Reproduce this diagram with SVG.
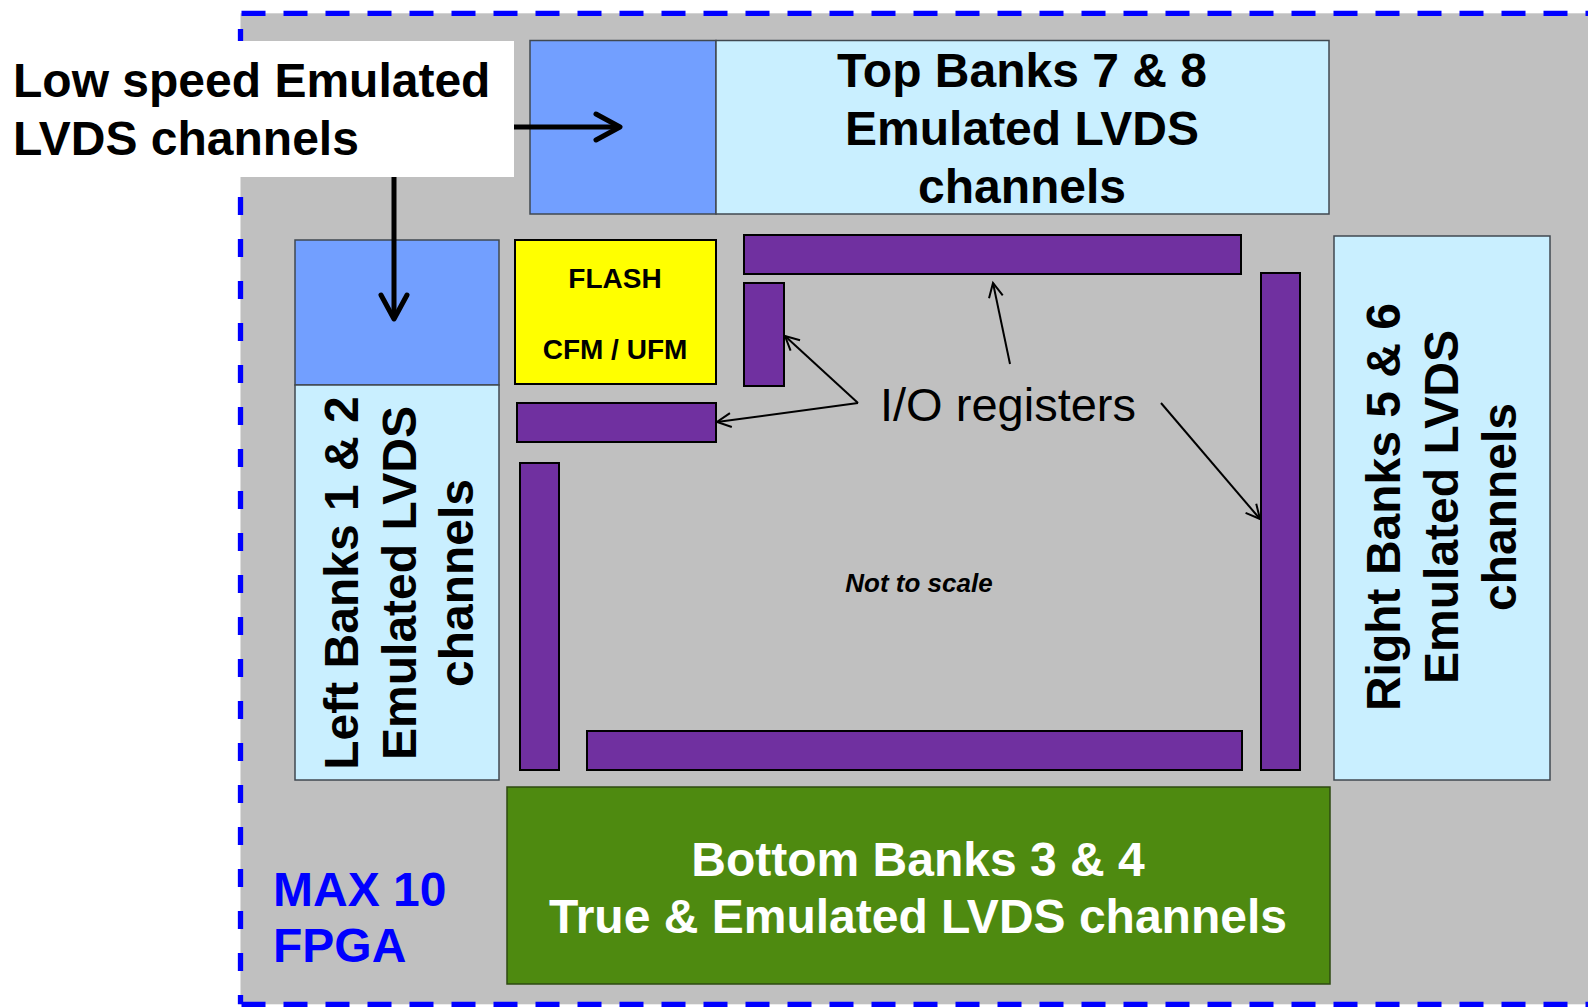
<svg xmlns="http://www.w3.org/2000/svg" width="1588" height="1007" viewBox="0 0 1588 1007">
  <defs>
    <style>
      .bold { font-family: "Liberation Sans", Arial, sans-serif; font-weight: bold; }
      .reg { font-family: "Liberation Sans", Arial, sans-serif; }
      .t48 { font-size: 48px; fill: #000; text-anchor: middle; }
      .blue { fill: #729FFF; stroke: #404850; stroke-width: 1.5; }
      .lblue { fill: #C9EFFF; stroke: #404850; stroke-width: 1.5; }
      .purple { fill: #7030A0; stroke: #000; stroke-width: 2; }
      .thick { stroke: #000; stroke-width: 5; fill: none; marker-end: url(#headThick); }
      .thin { stroke: #000; stroke-width: 2; fill: none; marker-end: url(#headThin); }
      .dash { stroke: #0000FF; stroke-width: 5.3; fill: none; }
    </style>
    <marker id="headThick" markerUnits="userSpaceOnUse" viewBox="-30 -18 36 36" refX="0" refY="0" markerWidth="36" markerHeight="36" orient="auto">
      <path d="M-24,-13 L0,0 L-24,13" fill="none" stroke="#000" stroke-width="5" stroke-linecap="round" stroke-linejoin="round"/>
    </marker>
    <marker id="headThin" markerUnits="userSpaceOnUse" viewBox="-18 -10 22 20" refX="0" refY="0" markerWidth="22" markerHeight="20" orient="auto">
      <path d="M-14,-7 L0,0 L-14,7" fill="none" stroke="#000" stroke-width="2" stroke-linejoin="miter"/>
    </marker>
  </defs>

  <rect x="0" y="0" width="1588" height="1007" fill="#FFFFFF"/>

  <!-- FPGA outline -->
  <g id="fpga">
    <rect x="240.5" y="13.3" width="1400" height="991" fill="#C0C0C0"/>
    <line class="dash" x1="241.5" y1="13.3" x2="1600" y2="13.3" stroke-dasharray="24 18"/>
    <line class="dash" x1="240.5" y1="13" x2="240.5" y2="1004.3" stroke-dasharray="18 24" stroke-dashoffset="26"/>
    <line class="dash" x1="241.5" y1="1004.3" x2="1600" y2="1004.3" stroke-dasharray="24 18"/>
    <text class="bold" x="273" y="906" font-size="48" fill="#0000FF">MAX 10</text>
    <text class="bold" x="273" y="962" font-size="48" fill="#0000FF">FPGA</text>
  </g>

  <!-- Top banks -->
  <g id="top-lowspeed">
    <rect class="blue" x="530" y="40.5" width="186" height="173.5"/>
  </g>
  <g id="top-banks">
    <rect class="lblue" x="716" y="40.5" width="613" height="173.5"/>
    <text class="bold t48" x="1022" y="87">Top Banks 7 &amp; 8</text>
    <text class="bold t48" x="1022" y="145">Emulated LVDS</text>
    <text class="bold t48" x="1022" y="203">channels</text>
  </g>

  <!-- Left banks -->
  <g id="left-lowspeed">
    <rect class="blue" x="295" y="240" width="204" height="145"/>
  </g>
  <g id="left-banks">
    <rect class="lblue" x="295" y="385" width="204" height="395"/>
    <g transform="translate(416,583) rotate(-90)">
      <text class="bold t48" x="0" y="-58">Left Banks 1 &amp; 2</text>
      <text class="bold t48" x="0" y="0">Emulated LVDS</text>
      <text class="bold t48" x="0" y="57">channels</text>
    </g>
  </g>

  <!-- Right banks -->
  <g id="right-banks">
    <rect class="lblue" x="1334" y="236" width="216" height="544"/>
    <g transform="translate(1458,507) rotate(-90)">
      <text class="bold t48" x="0" y="-58">Right Banks 5 &amp; 6</text>
      <text class="bold t48" x="0" y="0">Emulated LVDS</text>
      <text class="bold t48" x="0" y="58">channels</text>
    </g>
  </g>

  <!-- Bottom banks -->
  <g id="bottom-banks">
    <rect x="507" y="787" width="823" height="197" fill="#4E8A10" stroke="#2E4A10" stroke-width="1.5"/>
    <text class="bold t48" x="918" y="876" style="fill:#FFFFFF">Bottom Banks 3 &amp; 4</text>
    <text class="bold t48" x="918" y="933" style="fill:#FFFFFF">True &amp; Emulated LVDS channels</text>
  </g>

  <!-- Flash -->
  <g id="flash">
    <rect x="515" y="240" width="201" height="144" fill="#FFFF00" stroke="#000" stroke-width="2"/>
    <text class="bold" x="615" y="288" font-size="28" text-anchor="middle">FLASH</text>
    <text class="bold" x="615" y="359" font-size="28" text-anchor="middle">CFM / UFM</text>
  </g>

  <!-- I/O register bars -->
  <g id="io-top"><rect class="purple" x="744" y="235" width="497" height="39"/></g>
  <g id="io-top-small"><rect class="purple" x="744" y="283" width="40" height="103"/></g>
  <g id="io-left-flash"><rect class="purple" x="517" y="403" width="199" height="39"/></g>
  <g id="io-left"><rect class="purple" x="520" y="463" width="39" height="307"/></g>
  <g id="io-bottom"><rect class="purple" x="587" y="731" width="655" height="39"/></g>
  <g id="io-right"><rect class="purple" x="1261" y="273" width="39" height="497"/></g>

  <!-- Labels -->
  <g id="io-label">
    <text class="reg" x="880" y="421" font-size="46" textLength="256" lengthAdjust="spacingAndGlyphs">I/O registers</text>
  </g>
  <g id="scale-note">
    <text class="bold" x="919" y="592" font-size="26" font-style="italic" text-anchor="middle">Not to scale</text>
  </g>
  <g id="lowspeed-label">
    <rect x="0" y="41" width="514" height="136" fill="#FFFFFF"/>
    <text class="bold" x="13" y="97" font-size="48">Low speed Emulated</text>
    <text class="bold" x="13" y="155" font-size="48">LVDS channels</text>
  </g>

  <!-- Connectors -->
  <g id="connectors">
    <line class="thick" x1="514" y1="127" x2="620" y2="127"/>
    <line class="thick" x1="394" y1="177" x2="394" y2="319"/>
    <line class="thin" x1="1010" y1="364" x2="993" y2="283"/>
    <line class="thin" x1="858" y1="403" x2="785" y2="336"/>
    <line class="thin" x1="858" y1="403" x2="717" y2="422"/>
    <line class="thin" x1="1161" y1="403" x2="1260" y2="519"/>
  </g>
</svg>
